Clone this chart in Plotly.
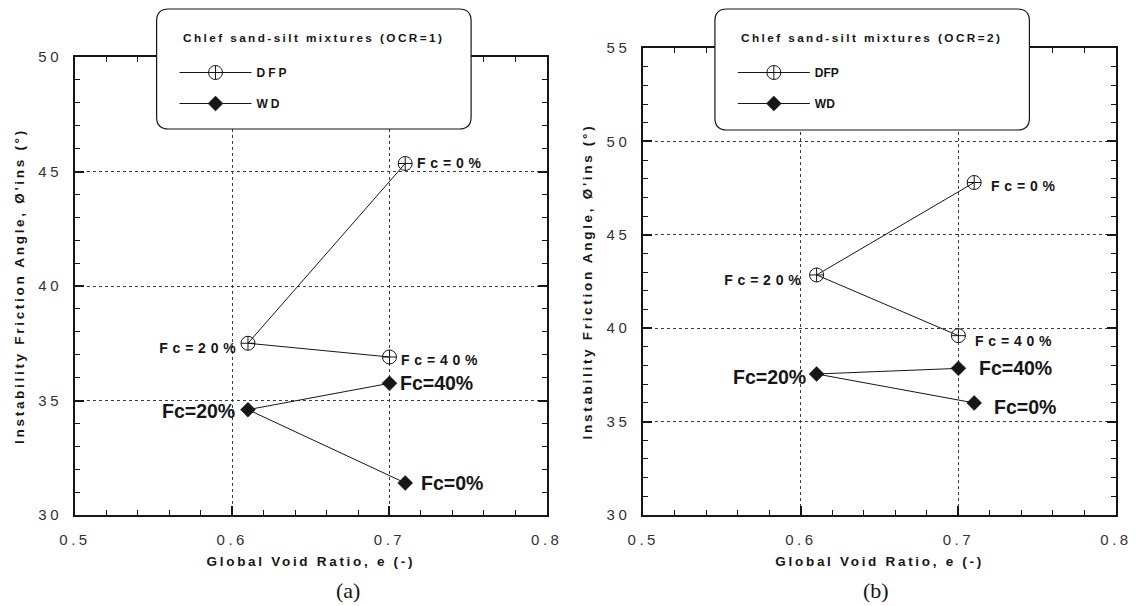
import plotly.graph_objects as go

# ---------------- data ----------------
fc_labels = ["Fc=0%", "Fc=20%", "Fc=40%"]

a_dfp_e = [0.71, 0.61, 0.70]
a_dfp_phi = [45.35, 37.5, 36.9]
a_wd_e = [0.71, 0.61, 0.70]
a_wd_phi = [31.4, 34.6, 35.75]

b_dfp_e = [0.71, 0.61, 0.70]
b_dfp_phi = [47.8, 42.85, 39.6]
b_wd_e = [0.71, 0.61, 0.70]
b_wd_phi = [36.0, 37.55, 37.85]

x_range = [0.5, 0.8]
a_y_range = [30, 50]
b_y_range = [30, 55]

legend_titles = ["Chlef sand-silt mixtures (OCR=1)", "Chlef sand-silt mixtures (OCR=2)"]
x_title = "Global Void Ratio, e (-)"
y_title = "Instability Friction Angle, Ø'ins (°)"
panel_tags = ["(a)", "(b)"]

# ---------------- geometry helpers ----------------
W, H = 1138, 606
ML, MR, MT, MB = 75, 17, 48, 91
PW, PH = W - ML - MR, H - MT - MB


def px(x):
    return (x - ML) / PW


def py(y):
    return (H - MB - y) / PH


SANS = "Liberation Sans, Arial, sans-serif"
INK = "#161616"

fig = go.Figure()

dfp_marker = dict(symbol="circle-cross-open", size=14, color=INK, line=dict(width=1, color=INK))
wd_marker = dict(symbol="diamond", size=11.5, color=INK, line=dict(width=0.5, color=INK))
ln = dict(color=INK, width=1)

fig.add_trace(go.Scatter(x=a_dfp_e, y=a_dfp_phi, mode="lines+markers", name="DFP",
                         xaxis="x", yaxis="y", legend="legend", legendgroup="a1",
                         line=ln, marker=dfp_marker))
fig.add_trace(go.Scatter(x=a_wd_e, y=a_wd_phi, mode="lines+markers", name="WD",
                         xaxis="x", yaxis="y", legend="legend", legendgroup="a2",
                         line=ln, marker=wd_marker))
fig.add_trace(go.Scatter(x=b_dfp_e, y=b_dfp_phi, mode="lines+markers", name="DFP",
                         xaxis="x2", yaxis="y2", legend="legend2", legendgroup="b1",
                         line=ln, marker=dfp_marker))
fig.add_trace(go.Scatter(x=b_wd_e, y=b_wd_phi, mode="lines+markers", name="WD",
                         xaxis="x2", yaxis="y2", legend="legend2", legendgroup="b2",
                         line=ln, marker=wd_marker))


def xaxis_cfg(domain, anchor):
    return dict(domain=domain, anchor=anchor, range=x_range, tick0=0.5, dtick=0.1,
                tickformat=".1f", ticks="inside", ticklen=9, tickwidth=1.5, tickcolor=INK,
                showline=True, linewidth=2, linecolor=INK, mirror="ticks",
                showgrid=True, gridcolor="#3c3c3c", griddash="dot", gridwidth=1,
                zeroline=False, ticklabelstandoff=10,
                minor=dict(dtick=0.02, ticks="inside", ticklen=5, tickwidth=1.2,
                           tickcolor=INK, showgrid=False),
                tickfont=dict(family=SANS, size=15, color="#333"),
                title=dict(text=x_title, standoff=10,
                           font=dict(family=SANS, size=13.5, color=INK, weight="bold")))


def yaxis_cfg(domain, anchor, rng):
    return dict(domain=domain, anchor=anchor, range=rng, tick0=30, dtick=5,
                ticks="inside", ticklen=9, tickwidth=1.5, tickcolor=INK,
                showline=True, linewidth=2, linecolor=INK, mirror="ticks",
                showgrid=True, gridcolor="#3c3c3c", griddash="dot", gridwidth=1,
                zeroline=False, ticklabelstandoff=8,
                minor=dict(dtick=1, ticks="inside", ticklen=5, tickwidth=1.2,
                           tickcolor=INK, showgrid=False),
                tickfont=dict(family=SANS, size=15, color="#333"),
                title=dict(text=y_title, standoff=18,
                           font=dict(family=SANS, size=13.5, color=INK, weight="bold")))


# ---------------- annotations ----------------
annotations = []
spaced_small = []   # letter-spaced small labels
spaced_title = []   # letter-spaced legend titles

# per-point label placement (anchor, xshift, yshift)
a_dfp_place = [("left", 10, 0), ("right", -5, -5), ("left", 10, -3)]
a_wd_place = [("left", 14, 0), ("right", -11, -1), ("left", 9, 0)]
b_dfp_place = [("left", 15, -3), ("right", -9, -5), ("left", 15, -5)]
b_wd_place = [("left", 18, -4), ("right", -9, -3), ("left", 19, 0)]


def add_labels(xs, ys, place, xref, yref, big):
    for lab, xv, yv, (anc, dx, dy) in zip(fc_labels, xs, ys, place):
        if not big:
            spaced_small.append(len(annotations))
        annotations.append(dict(
            x=xv, y=yv, xref=xref, yref=yref, text=lab, showarrow=False,
            xanchor=anc, yanchor="middle", align=anc, xshift=dx, yshift=dy,
            font=dict(family=SANS, size=19.5 if big else 14, color=INK, weight="bold")))


add_labels(a_dfp_e, a_dfp_phi, a_dfp_place, "x", "y", False)
add_labels(a_wd_e, a_wd_phi, a_wd_place, "x", "y", True)
add_labels(b_dfp_e, b_dfp_phi, b_dfp_place, "x2", "y2", False)
add_labels(b_wd_e, b_wd_phi, b_wd_place, "x2", "y2", True)

for tag, cx in zip(panel_tags, [349, 880]):
    annotations.append(dict(x=px(cx), y=py(590), xref="paper", yref="paper", text=tag,
                            showarrow=False, xanchor="center", yanchor="middle",
                            font=dict(family="Liberation Serif, Times New Roman, serif",
                                      size=22, color=INK)))

for title, lx in zip(legend_titles, [182, 742]):
    spaced_title.append(len(annotations))
    annotations.append(dict(x=px(lx), y=py(38), xref="paper", yref="paper", text=title,
                            showarrow=False, xanchor="left", yanchor="middle", align="left",
                            font=dict(family=SANS, size=11.8, color=INK, weight="bold")))


# ---------------- legend frames (rounded boxes) ----------------
def rounded(x0, y0, x1, y1, r):
    X = lambda v: f"{px(v):.5f}"
    Y = lambda v: f"{py(v):.5f}"
    return (f"M {X(x0 + r)} {Y(y0)} L {X(x1 - r)} {Y(y0)} Q {X(x1)} {Y(y0)} {X(x1)} {Y(y0 + r)} "
            f"L {X(x1)} {Y(y1 - r)} Q {X(x1)} {Y(y1)} {X(x1 - r)} {Y(y1)} "
            f"L {X(x0 + r)} {Y(y1)} Q {X(x0)} {Y(y1)} {X(x0)} {Y(y1 - r)} "
            f"L {X(x0)} {Y(y0 + r)} Q {X(x0)} {Y(y0)} {X(x0 + r)} {Y(y0)} Z")


shapes = [
    dict(type="path", xref="paper", yref="paper", path=rounded(157, 9, 473, 129, 12),
         fillcolor="white", line=dict(color=INK, width=1.2), layer="above"),
    dict(type="path", xref="paper", yref="paper", path=rounded(718, 9, 1034, 130, 12),
         fillcolor="white", line=dict(color=INK, width=1.2), layer="above"),
]


def legend_cfg(x0):
    return dict(x=px(x0), y=py(58), xanchor="left", yanchor="top", xref="paper", yref="paper",
                bgcolor="rgba(0,0,0,0)", borderwidth=0, itemwidth=72, tracegroupgap=12,
                itemsizing="trace",
                font=dict(family=SANS, size=12, color=INK, weight="bold"))


fig.update_layout(
    width=W, height=H,
    margin=dict(l=ML, r=MR, t=MT, b=MB),
    paper_bgcolor="white", plot_bgcolor="white",
    xaxis=xaxis_cfg([0, px(549)], "y"),
    yaxis=yaxis_cfg([py(515), py(57)], "x", a_y_range),
    xaxis2=xaxis_cfg([px(646), 1], "y2"),
    yaxis2=yaxis_cfg([py(515), py(48)], "x2", b_y_range),
    legend=legend_cfg(175),
    legend2=legend_cfg(736),
    annotations=annotations,
    shapes=shapes,
    showlegend=True,
)

post = """
var gd = document.getElementById('{plot_id}');
function sp(sel, v){ gd.querySelectorAll(sel).forEach(function(t){ t.style.letterSpacing = v; }); }
function ann(list, v){
  gd.querySelectorAll('.annotation').forEach(function(a){
    if (list.indexOf(+a.getAttribute('data-index')) >= 0) {
      a.querySelectorAll('text').forEach(function(t){ t.style.letterSpacing = v; });
    }
  });
}
function apply(){
  sp('.xtick text, .x2tick text, .ytick text, .y2tick text', '3.5px');
  sp('.xtitle, .x2title, .ytitle, .y2title', '2.7px');
  sp('.legendtext', '3px');
  gd.querySelectorAll('.legend [clip-path], .legend2 [clip-path]').forEach(function(e){ e.removeAttribute('clip-path'); });
  gd.querySelectorAll('g.infolayer g[class^="legend"] [clip-path]').forEach(function(e){ e.removeAttribute('clip-path'); });
  ann(SMALL, '4.8px');
  ann(TITLES, '2.4px');
}
apply();
setTimeout(apply, 100);
setTimeout(apply, 500);
""".replace("SMALL", str(spaced_small)).replace("TITLES", str(spaced_title))

fig.write_html("out.html", post_script=post)
